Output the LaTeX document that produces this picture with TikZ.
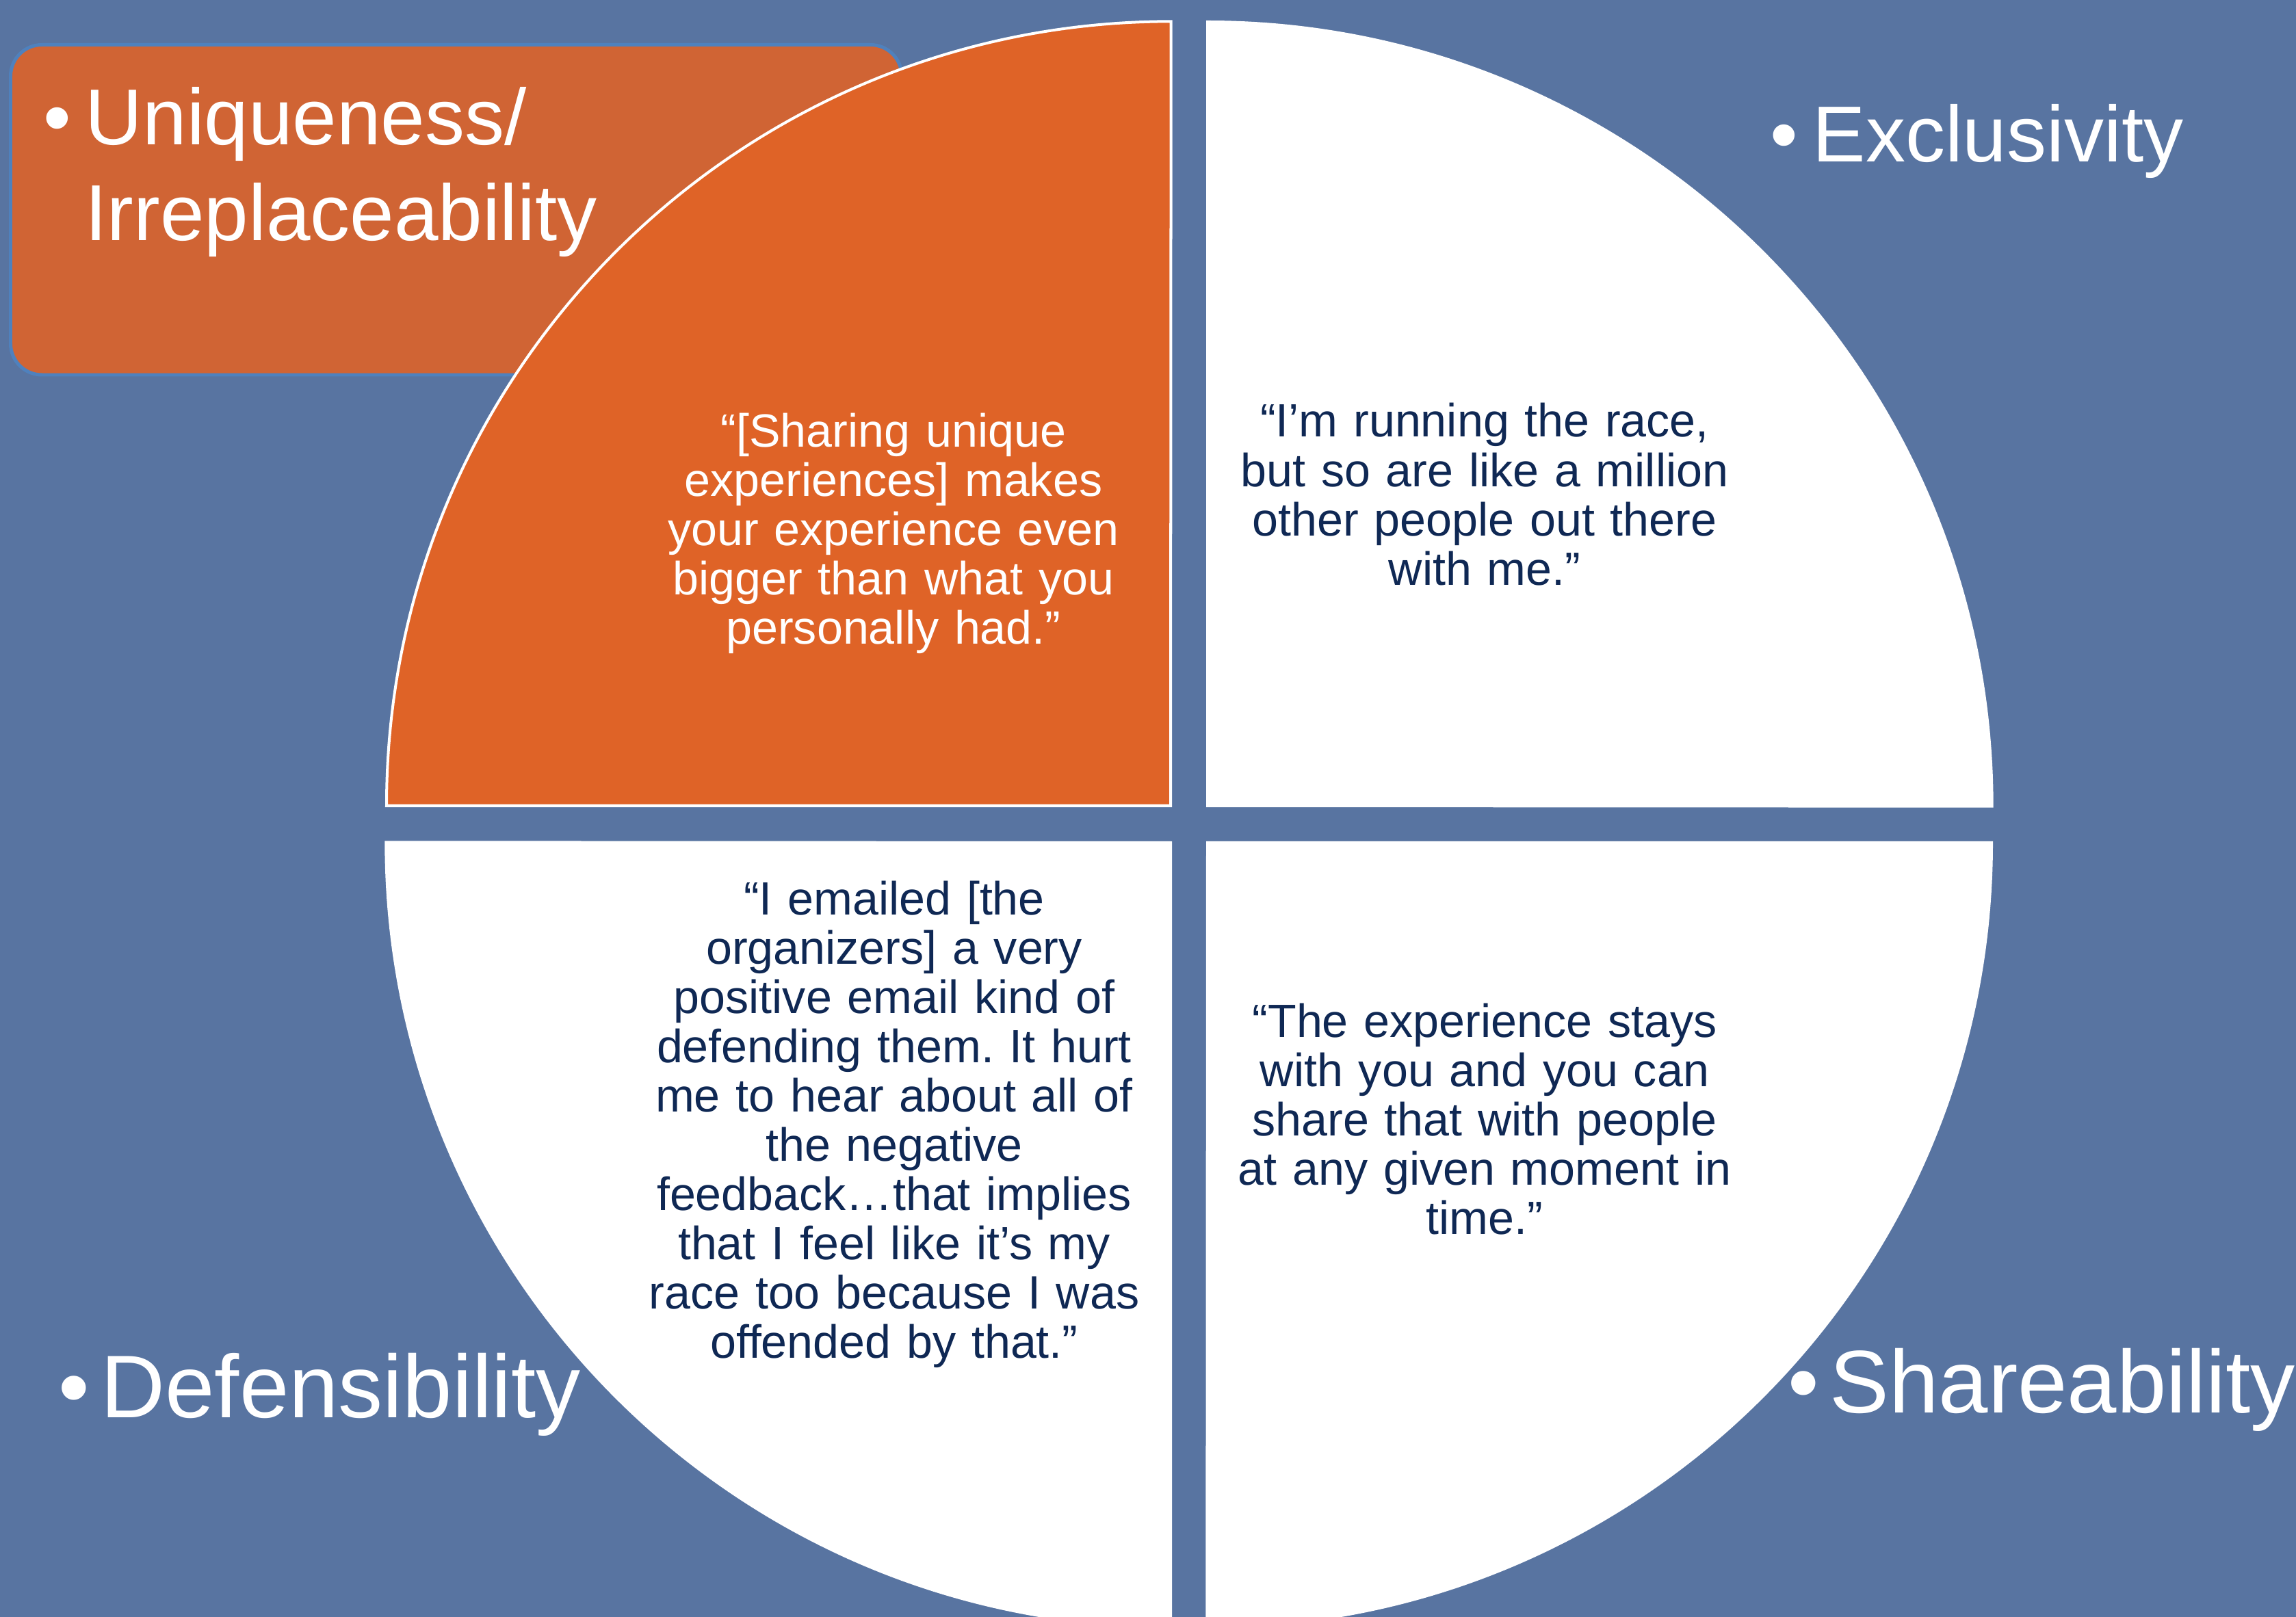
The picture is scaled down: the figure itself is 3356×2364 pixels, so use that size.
\documentclass[tikz,border=0pt]{standalone}
\usepackage{fontspec}
\setmainfont{Liberation Sans}
\frenchspacing
\definecolor{slate}{RGB}{88,116,161}
\definecolor{quadorange}{RGB}{223,99,39}
\definecolor{boxorange}{RGB}{208,100,52}
\definecolor{boxedge}{RGB}{79,129,189}
\definecolor{navy}{RGB}{15,40,84}
\begin{document}
\begin{tikzpicture}[x=0.01cm, y=-0.01cm,
  quadrant/.style={draw=white, line width=1.14pt, line join=miter},
  headline/.style={text=white, inner sep=0pt, anchor=base west,
    font=\fontsize{33pt}{39.8pt}\selectfont},
  bighead/.style={text=white, inner sep=0pt, anchor=base west,
    font=\fontsize{37pt}{44pt}\selectfont},
  quote/.style={inner sep=0pt, anchor=base, align=center, text width=8cm,
    font=\fontsize{19.4pt}{20.5pt}\selectfont}]

% background
\fill[slate] (0,0) rectangle (3356,2364);
\useasboundingbox (0,0) rectangle (3356,2364);

% rounded title box behind the upper-left quarter
\path[fill=boxorange, draw=boxedge, line width=1.42pt, rounded corners=13pt]
  (15.5,65.5) rectangle (1318,548);

% the four quarter discs
\path[quadrant, fill=quadorange]
  (1711,1178) -- (565,1178) arc[start angle=180, end angle=90, radius=11.46cm] -- cycle;
\path[quadrant, fill=white]
  (1765,1178) -- (1765,32) arc[start angle=90, end angle=0, radius=11.46cm] -- cycle;
\path[quadrant, fill=white]
  (1765,1232) -- (2911,1232) arc[start angle=0, end angle=-90, radius=11.46cm] -- cycle;
\path[quadrant, fill=white]
  (1711,1232) -- (1711,2378) arc[start angle=270, end angle=180, radius=11.46cm] -- cycle;

% headings
\node[headline] (bulU) at (63,212) {•};
\node[headline] (uniq1) at (124,212) {Uniqueness/};
\node[headline] (uniq2) at (124,352) {Irreplaceability};

\node[headline] (bulE) at (2587,237) {•};
\node[headline] (excl) at (2649,237) {Exclusivity};

\node[bighead] (bulD) at (85,2072) {•};
\node[bighead] (defe) at (147,2072) {Defensibility};

\node[bighead] (bulS) at (2613,2065) {•};
\node[bighead] (shar) at (2674,2065) {Shareability};

% quotations
\node[quote, text=white] (qU) at (1306,653)
  {“[Sharing unique\\ experiences] makes\\ your experience even\\ bigger than what you\\ personally had.”};
\node[quote, text=navy] (qE) at (2170,639)
  {“I’m running the race,\\ but so are like a million\\ other people out there\\ with me.”};
\node[quote, text=navy] (qD) at (1307,1337)
  {“I emailed [the\\ organizers] a very\\ positive email kind of\\ defending them. It hurt\\ me to hear about all of\\ the negative\\ feedback…that implies\\ that I feel like it’s my\\ race too because I was\\ offended by that.”};
\node[quote, text=navy] (qS) at (2170,1516)
  {“The experience stays\\ with you and you can\\ share that with people\\ at any given moment in\\ time.”};
\end{tikzpicture}
\end{document}
